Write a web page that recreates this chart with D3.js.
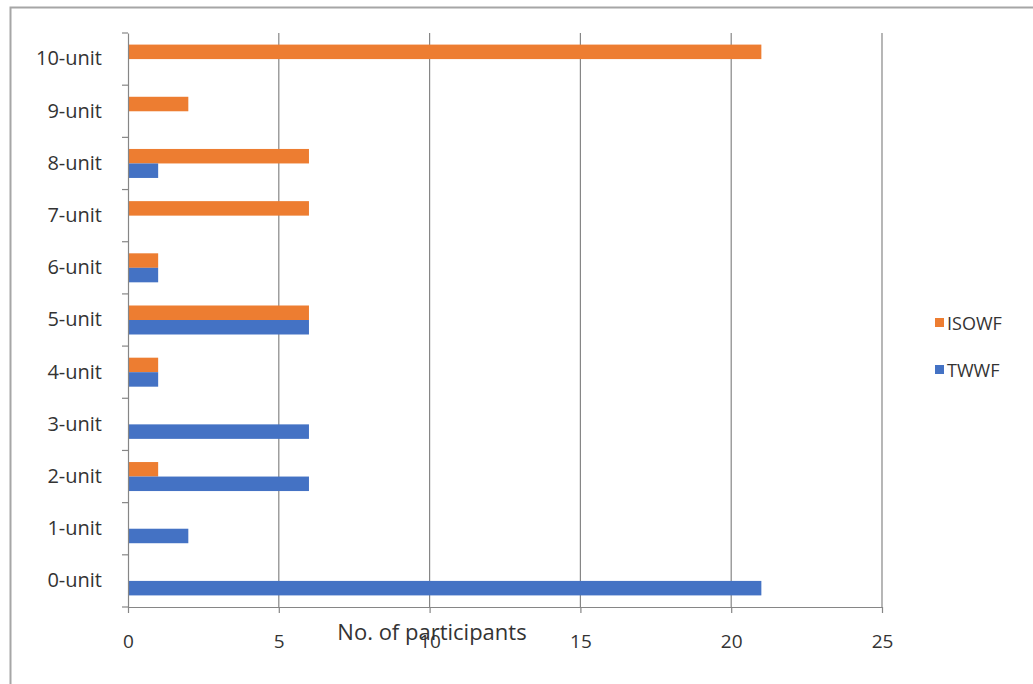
<!DOCTYPE html>
<html><head><meta charset="utf-8">
<script src="https://cdn.jsdelivr.net/npm/d3@7"></script>
<style>body{margin:0;background:#fff;} svg{display:block;} text{font-family:"Open Sans",sans-serif;fill:#333;}</style>
</head><body>
<svg id="c" width="1033" height="684"></svg>
<script>
const categories = ["0-unit","1-unit","2-unit","3-unit","4-unit","5-unit","6-unit","7-unit","8-unit","9-unit","10-unit"];
const isowf = [0,0,1,0,1,6,1,6,6,2,21];
const twwf  = [21,2,6,6,1,6,1,0,1,0,0];
const seriesNames = ["ISOWF","TWWF"];
const xTicks = [0,5,10,15,20,25];
const colors = {ISOWF:"#ED7D31", TWWF:"#4472C4"};
const FONT = "'Open Sans',sans-serif";

const svg = d3.select("#c");
// outer frame
svg.append("path").attr("d","M10.5,684 L10.5,7.5 L1033,7.5").attr("fill","none").attr("stroke","#a6a6a6").attr("stroke-width",2);

const x = d3.scaleLinear().domain([0,25]).range([128,882]);
const y = d3.scaleBand().domain(categories.slice().reverse()).range([33,607]).padding(0);
const sub = d3.scaleBand().domain(seriesNames).range([0,29]).padding(0);
const subOff = (y.bandwidth()-29)/2;

// gridlines
svg.append("g").selectAll("line").data(xTicks.slice(1)).join("line")
  .attr("x1",d=>x(d)).attr("x2",d=>x(d)).attr("y1",33).attr("y2",607)
  .attr("stroke","#868686").attr("stroke-width",1.2);

// bars
const data = categories.map((c,i)=>({c, ISOWF:isowf[i], TWWF:twwf[i]}));
const g = svg.append("g");
seriesNames.forEach(s=>{
  g.selectAll("rect."+s).data(data.filter(d=>d[s]>0)).join("rect")
   .attr("x",x(0)).attr("y",d=>y(d.c)+subOff+sub(s))
   .attr("width",d=>x(d[s])-x(0)).attr("height",sub.bandwidth())
   .attr("fill",colors[s]);
});

// x axis
const xa = svg.append("g").attr("transform","translate(0,607)")
  .call(d3.axisBottom(x).tickValues(xTicks).tickSize(6).tickSizeOuter(0).tickPadding(22));
xa.select(".domain").attr("stroke","#868686").attr("stroke-width",1.2);
xa.selectAll(".tick line").attr("stroke","#868686").attr("stroke-width",1.2);
xa.selectAll("text").attr("font-size",19).attr("font-family",FONT).attr("fill","#333");

// y axis
const ya = svg.append("g").attr("transform","translate(128,0)")
  .call(d3.axisLeft(y).tickSize(0).tickPadding(26));
ya.select(".domain").attr("stroke","#868686").attr("stroke-width",1.2);
ya.selectAll("text").attr("font-size",20).attr("font-family",FONT).attr("fill","#333");
// y tick marks at band boundaries
const bounds = categories.map(c=>y(c)).concat([607]);
ya.append("g").selectAll("line").data(bounds).join("line")
  .attr("x1",-6).attr("x2",0).attr("y1",d=>d).attr("y2",d=>d)
  .attr("stroke","#868686").attr("stroke-width",1.2);

// axis title
svg.append("text").attr("x",432).attr("y",640).attr("text-anchor","middle")
  .attr("font-size",22).text("No. of participants");

// legend
const lg = svg.append("g");
seriesNames.forEach((s,i)=>{
  const yy = 323 + i*47;
  lg.append("rect").attr("x",935).attr("y",yy-5).attr("width",9).attr("height",9).attr("fill",colors[s]);
  lg.append("text").attr("x",947).attr("y",yy+7).attr("font-size",18).text(s);
});
</script>
</body></html>
